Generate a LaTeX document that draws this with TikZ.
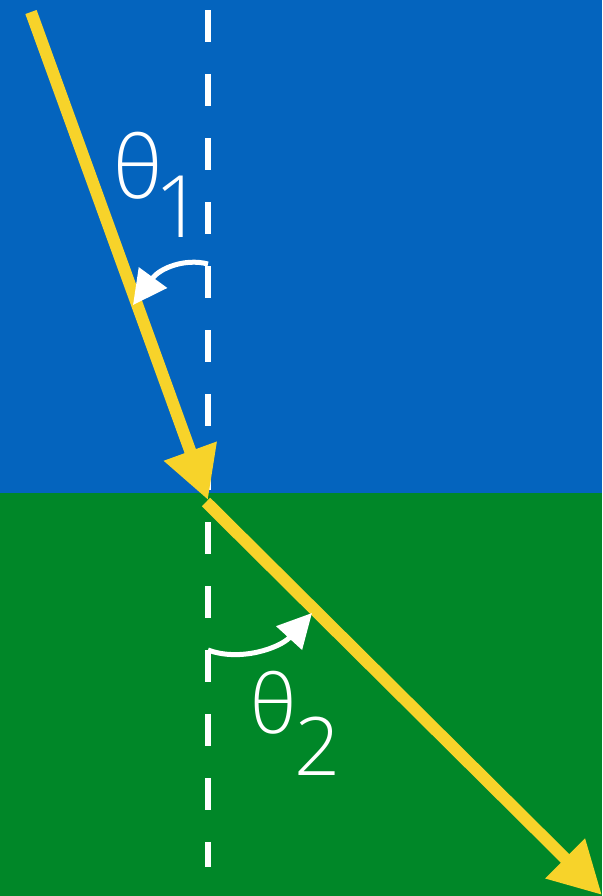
\documentclass[tikz,border=0pt]{standalone}
\usepackage{fontspec}
\usetikzlibrary{arrows.meta}
\newfontfamily\lblfont{Open Sans Light}
\definecolor{topblue}{RGB}{4,100,190}
\definecolor{botgreen}{RGB}{0,135,40}
\definecolor{rayyellow}{RGB}{247,211,42}
\begin{document}
\begin{tikzpicture}[x=0.1mm,y=-0.1mm,
  ray/.style={rayyellow,line width=1.2mm,-{Triangle[length=5.2mm,width=5.3mm]}},
  angarr/.style={white,line width=0.5mm,-{Triangle[length=3.4mm,width=3.4mm]}},
  lbl/.style={white,inner sep=0pt,anchor=base west}]
\useasboundingbox (0,0) rectangle (602,896);
\fill[topblue] (0,0) rectangle (602,493);
\fill[botgreen] (0,493) rectangle (602,896);
\draw[white,line width=0.55mm,dash pattern=on 3.2mm off 3.2mm] (208,10) -- (208,867);
\coordinate (src) at (31,12);
\coordinate (hit) at (208,500);
\coordinate (start) at (206,502);
\coordinate (dst) at (602,895);
\draw[ray] (src) -- (hit);
\draw[ray] (start) -- (dst);
\coordinate (a1) at (208,264);
\coordinate (b1) at (133,305);
\draw[angarr] (a1) .. controls (185,258) and (160,268) .. (b1);
\coordinate (a2) at (208,650);
\coordinate (b2) at (312,613);
\draw[angarr] (a2) .. controls (240,662) and (280,648) .. (b2);
\node[lbl,font=\lblfont\fontsize{24.5}{29}\selectfont] (theta1) at (113,198) {θ\kern-0.8mm\raisebox{-3.9mm}{1}};
\node[lbl,font=\lblfont\fontsize{23}{28}\selectfont] (theta2) at (250,733) {θ\kern-0.2mm\raisebox{-4.2mm}{2}};
\end{tikzpicture}
\end{document}
